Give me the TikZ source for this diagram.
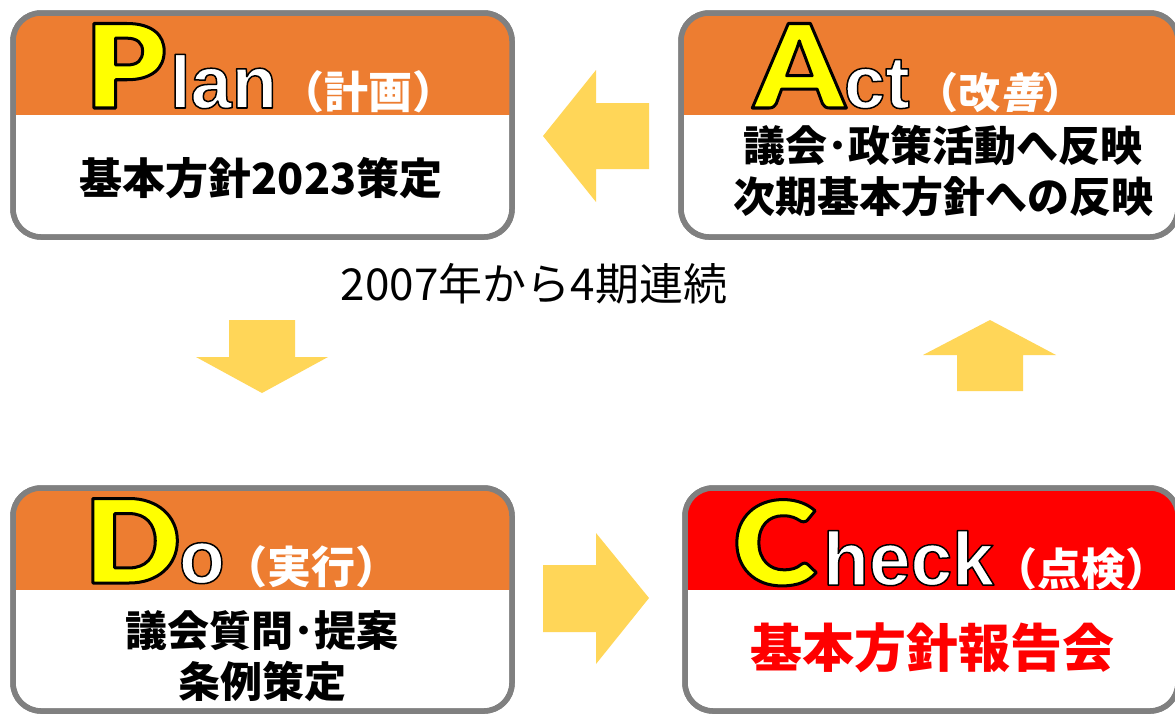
\documentclass[tikz,border=0pt]{standalone}
\usepackage{fontspec}
\setmainfont{Noto Sans CJK JP}
\newfontfamily\cjk{Noto Sans CJK JP}
\newfontfamily\arial{Liberation Sans}[BoldFont={Liberation Sans Bold}]
\newfontfamily\heavy{Lato Black}[FakeStretch=1.1]
\definecolor{bordergray}{RGB}{128,128,128}
\definecolor{headorange}{RGB}{237,125,49}
\definecolor{headred}{RGB}{255,0,0}
\definecolor{arrowyellow}{RGB}{255,214,88}
\definecolor{letteryellow}{RGB}{255,255,0}
% outlined text: fill then stroke (text render mode 2)
\newcommand\outl[2]{\special{pdf:literal direct 0 0 0 RG #1 w 1 j 2 Tr}#2\special{pdf:literal direct 0 Tr}}
\tikzset{
  card/.style={draw=bordergray, fill=white, line width=5.5pt, rounded corners=28pt,
    inner sep=0pt, outer sep=0pt},
  cardframe/.style={draw=bordergray, line width=5.5pt, rounded corners=28pt},
  blockarrow/.style={fill=arrowyellow, draw=none},
  lbl/.style={inner sep=0pt, outer sep=0pt, anchor=base west},
  bigletter/.style={lbl, text=letteryellow, font=\heavy\fontsize{116}{116}\selectfont},
  restword/.style={lbl, text=white, font=\arial\bfseries\fontsize{74}{74}\selectfont},
  paren/.style={lbl, text=white, font=\cjk\bfseries\fontsize{44}{44}\selectfont},
  body/.style={inner sep=0pt, align=center, font=\cjk\bfseries\fontsize{42}{51}\selectfont},
}
\newcommand\header[3]{%
  \begin{scope}
    \clip[rounded corners=28pt] (#1.north west) rectangle (#1.south east);
    \fill[#3] (#1.north west) rectangle (#1.east |- 0,#2);
  \end{scope}
  \draw[cardframe] (#1.north west) rectangle (#1.south east);
}
\begin{document}
\begin{tikzpicture}[x=1pt,y=-1pt]
\useasboundingbox (0,0) rectangle (1175,715);
\fill[white] (0,0) rectangle (1175,715);

% cards
\node[card, minimum width=499pt, minimum height=224pt] (plan) at (262.5,125) {};
\header{plan}{115}{headorange}
\node[card, minimum width=497pt, minimum height=224pt] (act) at (929.5,125) {};
\header{act}{115}{headorange}
\node[card, minimum width=499pt, minimum height=223pt] (do) at (262.5,599.5) {};
\header{do}{590}{headorange}
\node[card, minimum width=493pt, minimum height=223pt] (check) at (931.5,599.5) {};
\header{check}{590}{headred}

% titles
\node[bigletter] (pP) at (85,108) {\outl{3}{P}};
\node[restword] (pR) at (170,108) {\outl{1.5}{lan}};
\node[paren] (pK) at (280,108) {（計画）};

\node[bigletter] (aA) at (754,108) {\outl{3}{A}};
\node[restword] (aR) at (844,108) {\outl{1.5}{ct}};
\node[paren, font=\cjk\bfseries\fontsize{42}{42}\selectfont] (aK) at (916,108) {（改{\addfontfeature{FakeSlant=0.2}善}）};

\node[bigletter] (dD) at (84,583) {\outl{3}{D}};
\node[restword, font=\arial\bfseries\fontsize{75}{75}\selectfont] (dR) at (179,583) {\outl{1.5}{o}};
\node[paren] (dK) at (223,583) {（実行）};

\node[bigletter] (cC) at (733,585) {\outl{3}{C}};
\node[restword, font=\arial\bfseries\fontsize{75}{75}\selectfont] (cR) at (823,585) {\outl{1.5}{heck}};
\node[paren] (cK) at (993,585) {（点検）};

% bodies
\node[body, font=\cjk\bfseries\fontsize{43}{43}\selectfont] (planbody) at (261,178) {基本方針2023策定};
\node[body] (actbody) at (943,171) {議会･政策活動へ反映\\次期基本方針への反映};
\node[body] (dobody) at (262,656) {議会質問･提案\\条例策定};
\node[body, text=headred, font=\cjk\bfseries\fontsize{52}{52}\selectfont] (checkbody) at (932,648) {基本方針報告会};

% note
\node[inner sep=0pt, font=\cjk\fontsize{44}{44}\selectfont] (note) at (534,284) {2007年から4期連続};

% block arrows
\fill[blockarrow] (649,103) -- (596,103) -- (596,70) -- (543,136) -- (596,202) -- (596,169) -- (649,169) -- cycle;
\fill[blockarrow] (543,565) -- (596,565) -- (596,533) -- (649,598) -- (596,664) -- (596,632) -- (543,632) -- cycle;
\fill[blockarrow] (957,391) -- (957,355) -- (923,355) -- (990,320) -- (1056,355) -- (1023,355) -- (1023,391) -- cycle;
\fill[blockarrow] (229,320) -- (295,320) -- (295,357) -- (328,357) -- (262,393) -- (196,357) -- (229,357) -- cycle;
\end{tikzpicture}
\end{document}
